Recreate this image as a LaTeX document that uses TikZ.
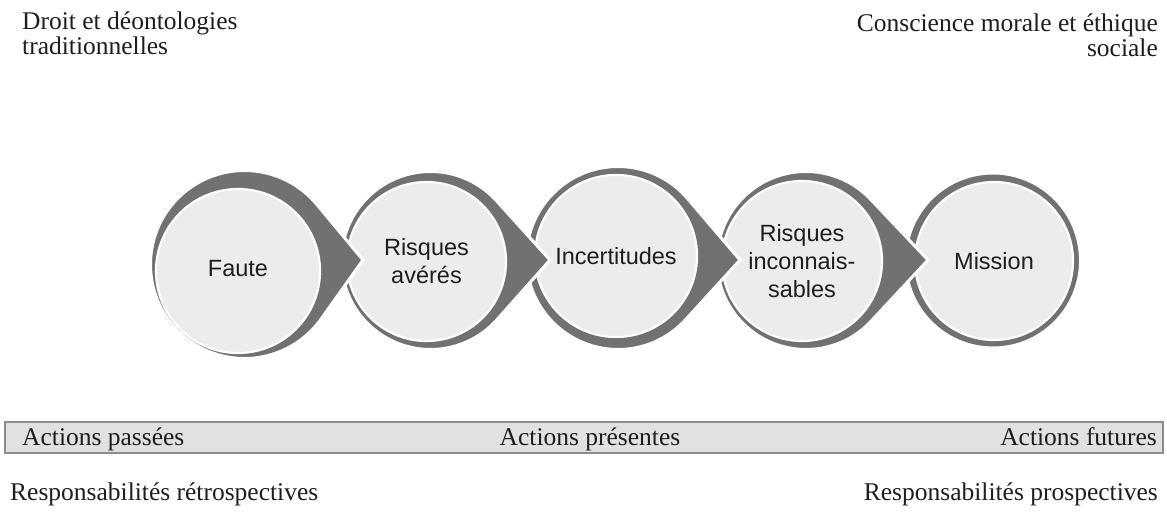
\documentclass[tikz,border=0pt]{standalone}
\usepackage{fontspec}
\setmainfont{Liberation Serif}
\newfontfamily\circfont{Liberation Sans}
\usetikzlibrary{calc}
\definecolor{darkg}{RGB}{112,113,115}
\definecolor{lightg}{RGB}{236,236,238}
\definecolor{barfill}{RGB}{225,225,225}
\definecolor{barline}{RGB}{140,140,140}
\definecolor{txt}{RGB}{30,30,30}
\newcommand\tdrop[5]{%
  \pgfmathsetmacro\tdd{veclen(#4-#1,#5-#2)}%
  \pgfmathsetmacro\tdphi{atan2(#5-#2,#4-#1)}%
  \pgfmathsetmacro\tdal{acos(#3/\tdd)}%
  \pgfmathsetmacro\tdsa{\tdphi+\tdal}%
  \pgfmathsetmacro\tdea{\tdphi+360-\tdal}%
  \filldraw[darkshape] (#4,#5) -- ([shift={(\tdsa:#3pt)}]#1,#2) arc[start angle=\tdsa, end angle=\tdea, radius=#3pt] -- cycle;}
\tikzset{
  darkshape/.style={fill=darkg, draw=white, line width=3pt},
  lightc/.style={circle, fill=lightg, draw=white, line width=2.2pt, inner sep=0pt, align=center,
    text=txt, font=\circfont\fontsize{23.5}{28}\selectfont},
  serif/.style={text=txt, inner sep=0pt, font=\fontsize{25.5}{25}\selectfont},
  bar/.style={fill=barfill, draw=barline, line width=1.3pt}
}
\begin{document}
\begin{tikzpicture}[x=1pt,y=1pt]
\useasboundingbox (0,0) rectangle (1167,515);
% shape 5
\filldraw[darkshape] (993,254.5) circle[radius=87.5];
\node[lightc, minimum size=158pt] (c5) at (994,254) {Mission};
% shape 4
\tdrop{806}{254.5}{89}{928}{255}
\node[lightc, minimum size=160pt] (c4) at (802,254) {Risques\\inconnais-\\sables};
% shape 3
\tdrop{618}{257}{91.5}{740}{255}
\node[lightc, minimum size=162pt] (c3) at (616,259) {Incertitudes};
% shape 2
\tdrop{430.5}{254.5}{89}{550}{255}
\node[lightc, minimum size=159pt] (c2) at (426.5,253.5) {Risques\\avérés};
% shape 1
\tdrop{244.5}{250.5}{94}{363}{255}
\node[lightc, minimum size=164pt] (c1) at (238,244) {\raisebox{5pt}{Faute}};
% bar
\draw[bar] (5,62) rectangle (1163,93);
\node[serif, anchor=base west] (ap) at (22,70) {Actions passées};
\node[serif, anchor=base] (apr) at (590,70) {Actions présentes};
\node[serif, anchor=base east] (af) at (1157,70) {Actions futures};
% top texts
\node[serif, anchor=north west, align=left] (droit) at (22,503) {Droit et déontologies\\traditionnelles};
\node[serif, anchor=north east, align=right] (consc) at (1158,501) {Conscience morale et éthique\\sociale};
% bottom texts
\node[serif, anchor=base west] (rr) at (10,15) {Responsabilités rétrospectives};
\node[serif, anchor=base east] (rp) at (1158,15) {Responsabilités prospectives};
\end{tikzpicture}
\end{document}
